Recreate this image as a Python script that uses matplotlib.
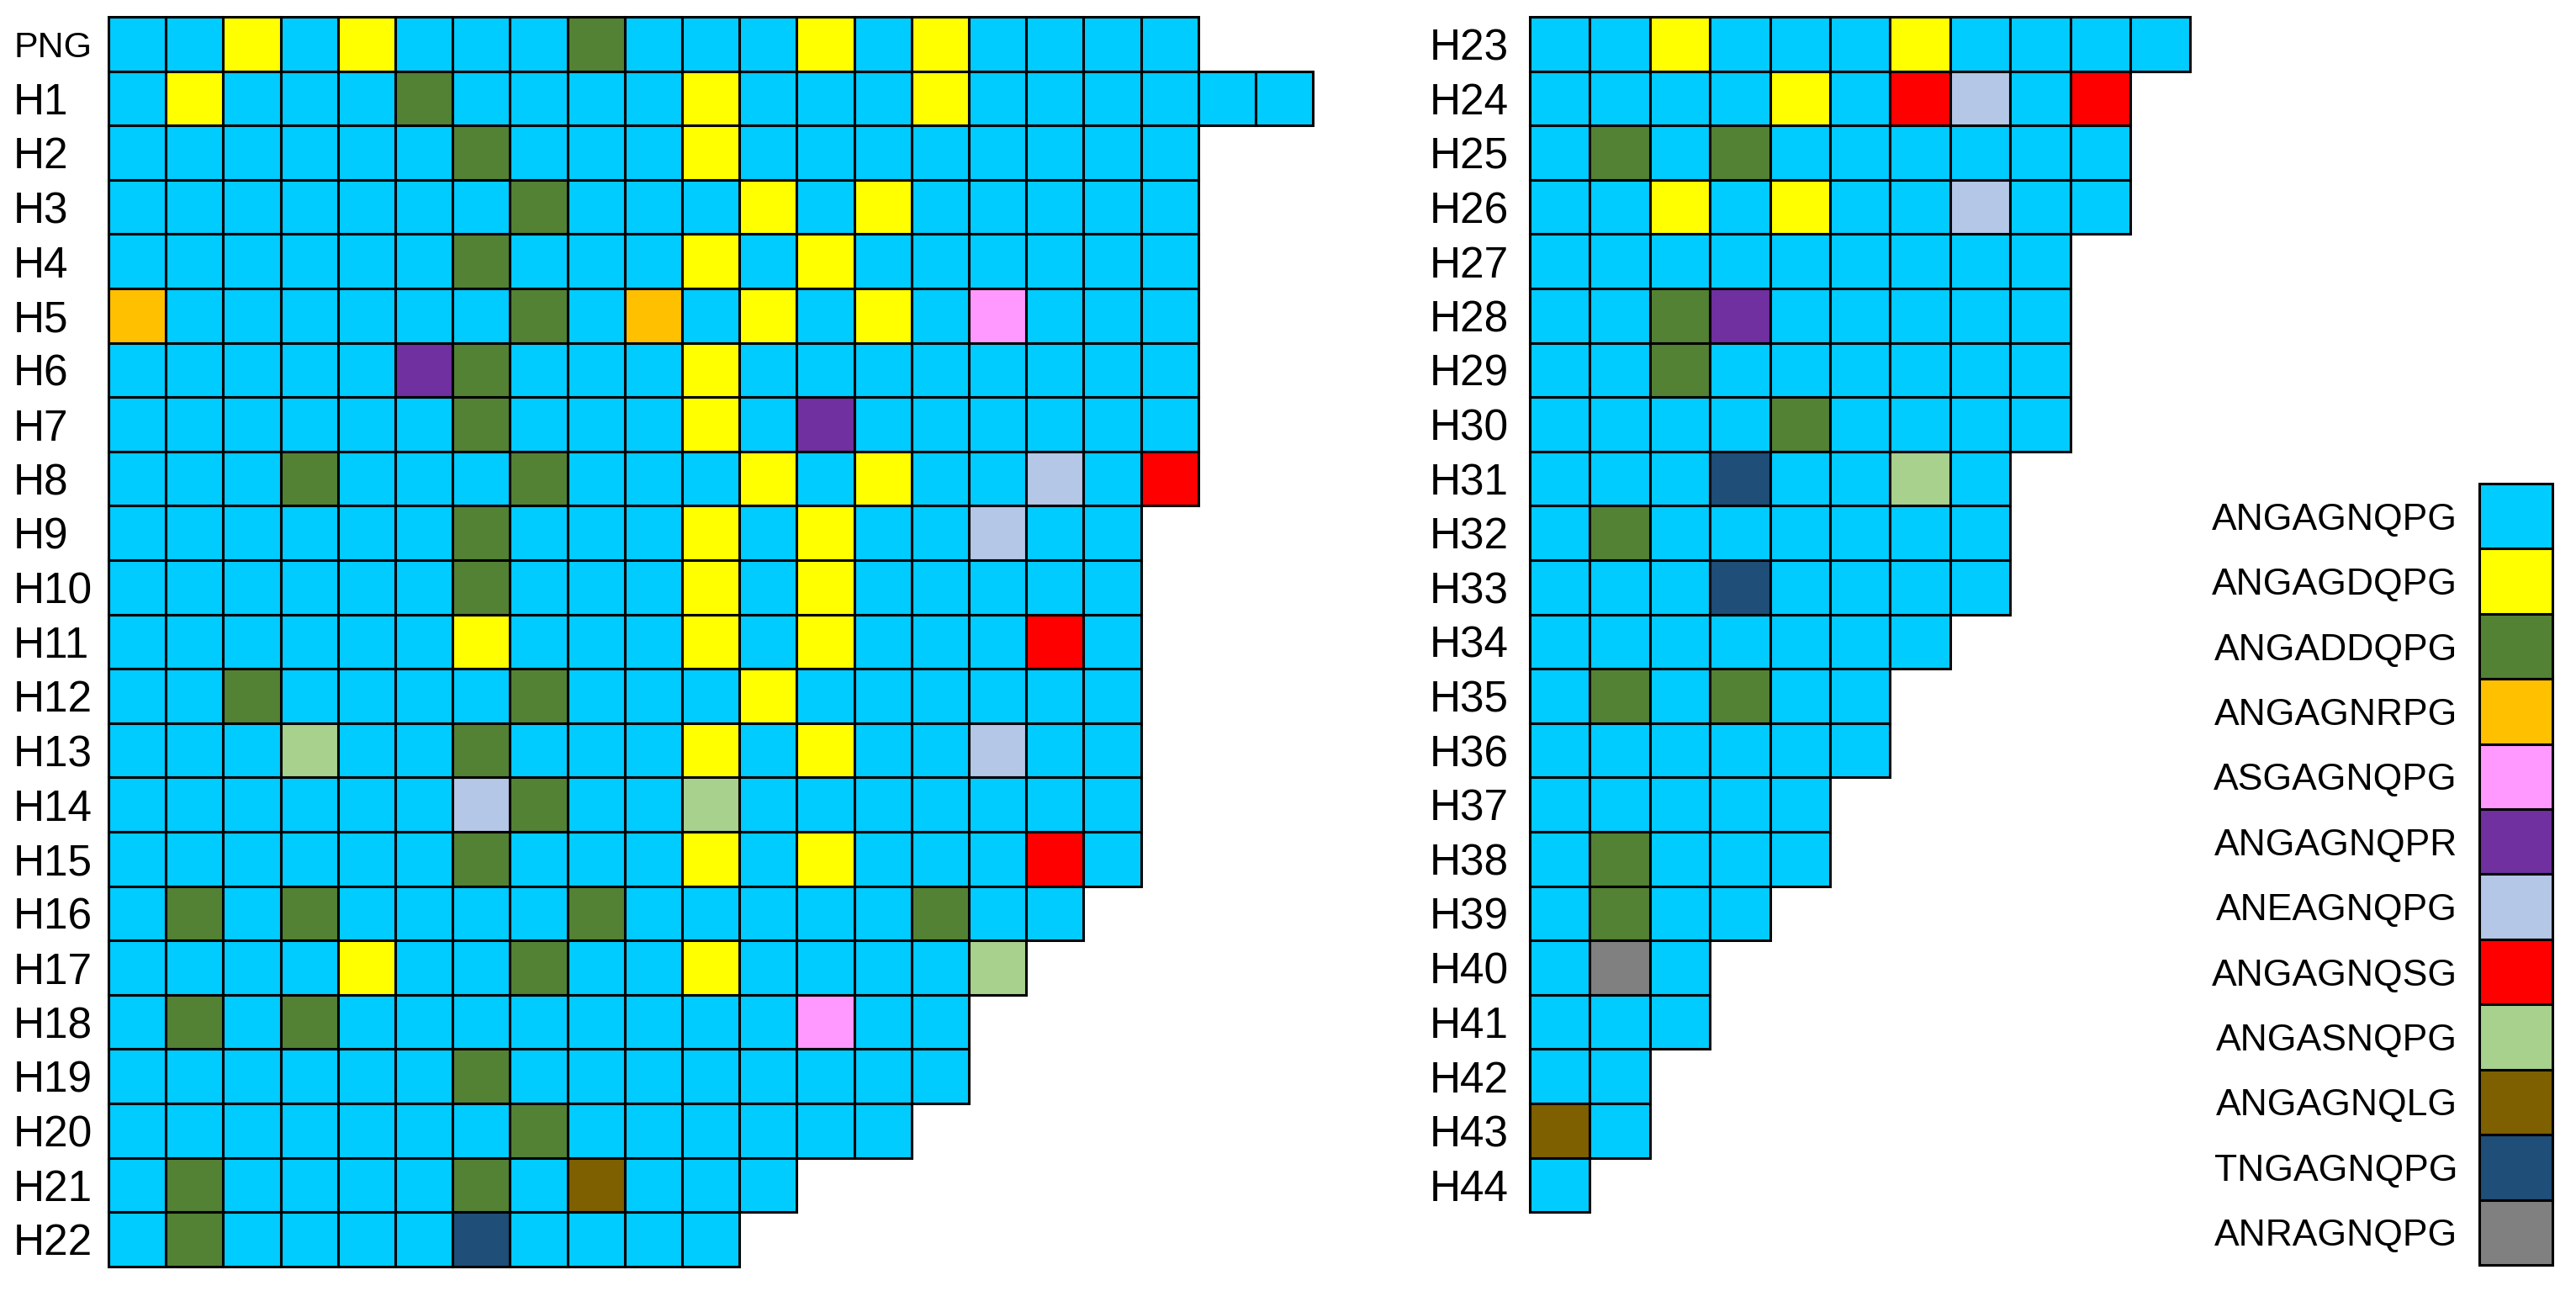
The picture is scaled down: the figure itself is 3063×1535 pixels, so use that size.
import numpy as np
import matplotlib
matplotlib.use('Agg')
import matplotlib.pyplot as plt

plt.rcParams['font.family'] = ['Liberation Sans', 'DejaVu Sans']

# sequence variants and their colours (index = code used in the rows below)
seq_names = ['ANGAGNQPG', 'ANGAGDQPG', 'ANGADDQPG', 'ANGAGNRPG', 'ASGAGNQPG',
             'ANGAGNQPR', 'ANEAGNQPG', 'ANGAGNQSG', 'ANGASNQPG', 'ANGAGNQLG',
             'TNGAGNQPG', 'ANRAGNQPG']
seq_colors = ['#00CCFF', '#FFFF00', '#548235', '#FFC000', '#FF99FF',
              '#7030A0', '#B4C7E7', '#FF0000', '#A9D18E', '#7F6000',
              '#1F4E79', '#808080']

left_labels = ['PNG', 'H1', 'H2', 'H3', 'H4', 'H5', 'H6', 'H7', 'H8', 'H9', 'H10',
               'H11', 'H12', 'H13', 'H14', 'H15', 'H16', 'H17', 'H18', 'H19',
               'H20', 'H21', 'H22']
left_rows = [
    [0, 0, 1, 0, 1, 0, 0, 0, 2, 0, 0, 0, 1, 0, 1, 0, 0, 0, 0],
    [0, 1, 0, 0, 0, 2, 0, 0, 0, 0, 1, 0, 0, 0, 1, 0, 0, 0, 0, 0, 0],
    [0, 0, 0, 0, 0, 0, 2, 0, 0, 0, 1, 0, 0, 0, 0, 0, 0, 0, 0],
    [0, 0, 0, 0, 0, 0, 0, 2, 0, 0, 0, 1, 0, 1, 0, 0, 0, 0, 0],
    [0, 0, 0, 0, 0, 0, 2, 0, 0, 0, 1, 0, 1, 0, 0, 0, 0, 0, 0],
    [3, 0, 0, 0, 0, 0, 0, 2, 0, 3, 0, 1, 0, 1, 0, 4, 0, 0, 0],
    [0, 0, 0, 0, 0, 5, 2, 0, 0, 0, 1, 0, 0, 0, 0, 0, 0, 0, 0],
    [0, 0, 0, 0, 0, 0, 2, 0, 0, 0, 1, 0, 5, 0, 0, 0, 0, 0, 0],
    [0, 0, 0, 2, 0, 0, 0, 2, 0, 0, 0, 1, 0, 1, 0, 0, 6, 0, 7],
    [0, 0, 0, 0, 0, 0, 2, 0, 0, 0, 1, 0, 1, 0, 0, 6, 0, 0],
    [0, 0, 0, 0, 0, 0, 2, 0, 0, 0, 1, 0, 1, 0, 0, 0, 0, 0],
    [0, 0, 0, 0, 0, 0, 1, 0, 0, 0, 1, 0, 1, 0, 0, 0, 7, 0],
    [0, 0, 2, 0, 0, 0, 0, 2, 0, 0, 0, 1, 0, 0, 0, 0, 0, 0],
    [0, 0, 0, 8, 0, 0, 2, 0, 0, 0, 1, 0, 1, 0, 0, 6, 0, 0],
    [0, 0, 0, 0, 0, 0, 6, 2, 0, 0, 8, 0, 0, 0, 0, 0, 0, 0],
    [0, 0, 0, 0, 0, 0, 2, 0, 0, 0, 1, 0, 1, 0, 0, 0, 7, 0],
    [0, 2, 0, 2, 0, 0, 0, 0, 2, 0, 0, 0, 0, 0, 2, 0, 0],
    [0, 0, 0, 0, 1, 0, 0, 2, 0, 0, 1, 0, 0, 0, 0, 8],
    [0, 2, 0, 2, 0, 0, 0, 0, 0, 0, 0, 0, 4, 0, 0],
    [0, 0, 0, 0, 0, 0, 2, 0, 0, 0, 0, 0, 0, 0, 0],
    [0, 0, 0, 0, 0, 0, 0, 2, 0, 0, 0, 0, 0, 0],
    [0, 2, 0, 0, 0, 0, 2, 0, 9, 0, 0, 0],
    [0, 2, 0, 0, 0, 0, 10, 0, 0, 0, 0],
]

right_labels = ['H23', 'H24', 'H25', 'H26', 'H27', 'H28', 'H29', 'H30', 'H31',
                'H32', 'H33', 'H34', 'H35', 'H36', 'H37', 'H38', 'H39', 'H40',
                'H41', 'H42', 'H43', 'H44']
right_rows = [
    [0, 0, 1, 0, 0, 0, 1, 0, 0, 0, 0],
    [0, 0, 0, 0, 1, 0, 7, 6, 0, 7],
    [0, 2, 0, 2, 0, 0, 0, 0, 0, 0],
    [0, 0, 1, 0, 1, 0, 0, 6, 0, 0],
    [0, 0, 0, 0, 0, 0, 0, 0, 0],
    [0, 0, 2, 5, 0, 0, 0, 0, 0],
    [0, 0, 2, 0, 0, 0, 0, 0, 0],
    [0, 0, 0, 0, 2, 0, 0, 0, 0],
    [0, 0, 0, 10, 0, 0, 8, 0],
    [0, 2, 0, 0, 0, 0, 0, 0],
    [0, 0, 0, 10, 0, 0, 0, 0],
    [0, 0, 0, 0, 0, 0, 0],
    [0, 2, 0, 2, 0, 0],
    [0, 0, 0, 0, 0, 0],
    [0, 0, 0, 0, 0],
    [0, 2, 0, 0, 0],
    [0, 2, 0, 0],
    [0, 11, 0],
    [0, 0, 0],
    [0, 0],
    [9, 0],
    [0],
]

W, H = 3063, 1535
fig = plt.figure(figsize=(W / 100, H / 100), dpi=100)


def px_axes(x0, y0, w, h):
    # axes placed in pixel units measured from the top-left corner
    return fig.add_axes([x0 / W, 1 - (y0 + h) / H, w / W, h / H])


def clean(ax):
    ax.set_xticks([])
    for s in ax.spines.values():
        s.set_visible(False)


def draw_panel(ax, labels, rows, ncols, pad):
    for r, row in enumerate(rows):
        ax.bar(np.arange(len(row)), 1, bottom=r, width=1, align='edge',
               color=[seq_colors[k] for k in row], edgecolor='black',
               linewidth=2.2, clip_on=False)
    ax.set_xlim(0, ncols)
    ax.set_ylim(len(rows), 0)
    ax.set_yticks(np.arange(len(rows)) + 0.5)
    ax.set_yticklabels(labels, ha='left', fontsize=37)
    ax.tick_params(axis='y', length=0, pad=pad)
    clean(ax)


ax_l = px_axes(129, 20, 21 * 68.2, 23 * 64.6)
draw_panel(ax_l, left_labels, left_rows, 21, (129 - 16) * 0.72)
ax_l.get_yticklabels()[0].set_fontsize(31)

ax_r = px_axes(1819, 20, 11 * 71.4, 22 * 64.6)
draw_panel(ax_r, right_labels, right_rows, 11, (1819 - 1700) * 0.72)

# colour key
ax_k = px_axes(2948, 575, 87, 929)
ax_k.bar(np.zeros(len(seq_names)), 1, bottom=np.arange(len(seq_names)), width=1,
         align='edge', color=seq_colors, edgecolor='black', linewidth=2.2,
         clip_on=False)
ax_k.set_xlim(0, 1)
ax_k.set_ylim(len(seq_names), 0)
ax_k.set_yticks(np.arange(len(seq_names)) + 0.5)
ax_k.set_yticklabels(seq_names, fontsize=32)
ax_k.tick_params(axis='y', length=0, pad=(2948 - 2922) * 0.72)
clean(ax_k)

fig.savefig('out.png', dpi=100, facecolor='white')
